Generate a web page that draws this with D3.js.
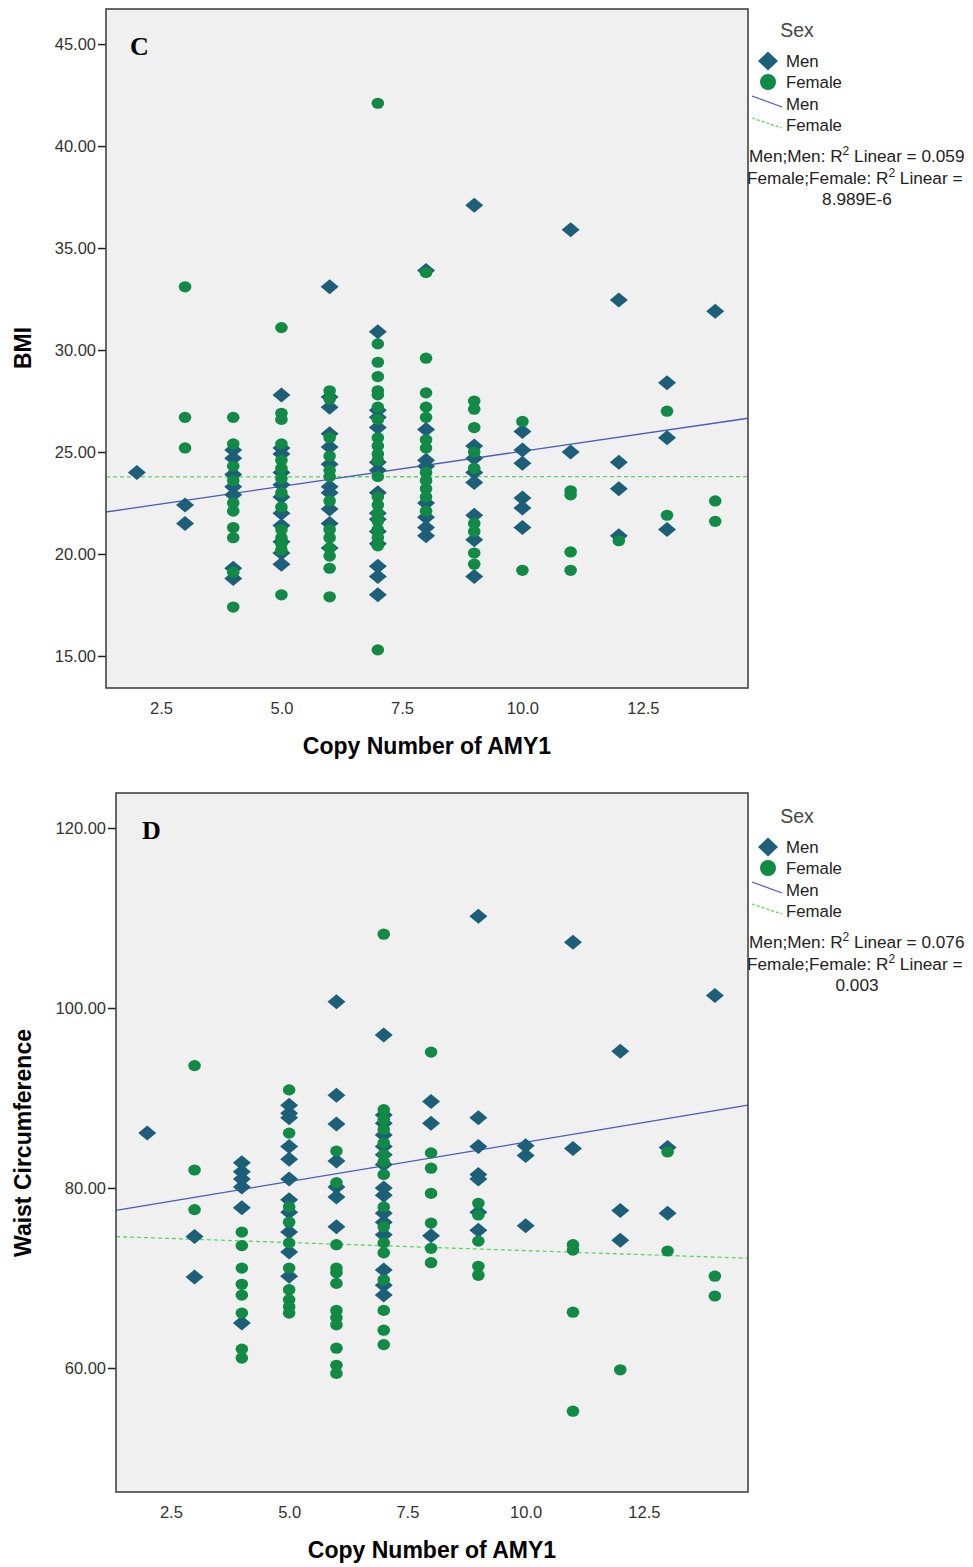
<!DOCTYPE html>
<html>
<head>
<meta charset="utf-8">
<script src="https://d3js.org/d3.v7.min.js"></script>
<style>
  body { margin: 0; background: #fff; }
  text { font-family: "Liberation Sans", Arial, sans-serif; }
</style>
</head>
<body>
<div id="chart"></div>
<script>
// ---- data ----
// each entry: copy number of AMY1, then the values at that copy number
var bmiMen = [
  [2, [24.0]],
  [3, [22.4, 21.5]],
  [4, [25.1, 24.7, 23.9, 23.3, 22.9, 19.3, 18.8]],
  [5, [27.8, 25.2, 24.9, 24.0, 23.4, 22.8, 22.0, 21.4, 20.6, 20.05, 19.5]],
  [6, [33.1, 27.7, 27.2, 25.9, 25.25, 24.4, 23.3, 23.0, 22.2, 21.5, 20.3]],
  [7, [30.9, 27.05, 26.7, 26.2, 24.5, 24.1, 23.0, 22.0, 21.7, 21.1, 20.5, 19.4, 18.9, 18.0]],
  [8, [33.9, 26.1, 24.6, 24.3, 22.5, 21.8, 21.3, 20.9]],
  [9, [37.1, 25.3, 24.7, 24.0, 23.5, 21.9, 20.7, 18.9]],
  [10, [26.0, 25.1, 24.45, 22.75, 22.25, 21.3]],
  [11, [35.9, 25.0]],
  [12, [32.45, 24.5, 23.2, 20.9]],
  [13, [28.4, 25.7, 21.2]],
  [14, [31.9]]
];
var bmiFemale = [
  [3, [33.1, 26.7, 25.2]],
  [4, [26.7, 25.4, 24.3, 23.6, 22.5, 22.1, 21.3, 20.8, 19.1, 17.4]],
  [5, [31.1, 26.9, 26.6, 25.4, 24.6, 24.2, 23.7, 23.0, 22.3, 21.2, 20.8, 20.5, 20.2, 18.0]],
  [6, [28.0, 27.6, 25.7, 24.8, 24.1, 23.8, 22.6, 21.2, 20.8, 20.3, 19.9, 19.3, 17.9]],
  [7, [42.1, 30.3, 29.4, 28.7, 28.0, 27.8, 27.2, 26.6, 25.7, 25.3, 24.9, 24.6, 23.8, 22.8, 22.4, 22.0, 21.6, 21.2, 20.8, 20.4, 15.3]],
  [8, [33.8, 29.6, 27.9, 27.2, 26.7, 25.6, 25.2, 24.0, 23.6, 23.2, 22.8, 22.1]],
  [9, [27.5, 27.1, 26.2, 25.0, 24.2, 21.5, 21.1, 20.05, 19.5]],
  [10, [26.5, 19.2]],
  [11, [23.1, 22.9, 20.1, 19.2]],
  [12, [20.65]],
  [13, [27.0, 21.9]],
  [14, [22.6, 21.6]]
];
var waistMen = [
  [2, [86.1]],
  [3, [74.6, 70.1]],
  [4, [82.8, 81.8, 81.0, 80.1, 77.8, 65.0]],
  [5, [89.2, 88.3, 87.8, 84.6, 83.2, 81.0, 78.7, 77.3, 75.1, 72.9, 70.2]],
  [6, [100.7, 90.3, 87.1, 83.0, 80.1, 79.0, 75.7]],
  [7, [97.0, 88.1, 87.2, 85.9, 84.6, 83.7, 82.6, 80.0, 79.2, 77.2, 76.2, 74.8, 70.9, 69.2, 68.1]],
  [8, [89.6, 87.2, 74.7]],
  [9, [110.2, 87.8, 84.6, 81.5, 81.0, 77.3, 75.3]],
  [10, [84.7, 83.6, 75.8]],
  [11, [107.3, 84.4]],
  [12, [95.2, 77.5, 74.2]],
  [13, [84.5, 77.2]],
  [14, [101.4]]
];
var waistFemale = [
  [3, [93.6, 82.0, 77.6]],
  [4, [75.1, 73.6, 71.1, 69.3, 68.1, 66.1, 62.1, 61.1]],
  [5, [90.9, 86.1, 77.9, 76.2, 73.9, 71.1, 68.7, 67.6, 66.8, 66.1]],
  [6, [84.1, 80.6, 73.7, 71.1, 70.6, 69.4, 66.4, 65.6, 64.8, 62.2, 60.3, 59.4]],
  [7, [108.2, 88.7, 87.6, 86.5, 85.0, 83.7, 82.9, 81.5, 77.9, 75.7, 73.9, 72.8, 69.8, 66.4, 64.2, 62.6]],
  [8, [95.1, 83.9, 82.2, 79.4, 76.1, 73.3, 71.7]],
  [9, [78.3, 77.0, 74.1, 71.3, 70.3]],
  [11, [73.7, 73.1, 66.2, 55.2]],
  [12, [59.8]],
  [13, [84.0, 73.0]],
  [14, [70.2, 68.0]]
];
// fit lines: [intercept, slope]
var bmiFitMen = [21.59, 0.345];
var bmiFitFemale = [23.78, 0.001];
var waistFitMen = [76.33, 0.876];
var waistFitFemale = [74.84, -0.18];

var bmiTicks = [15, 20, 25, 30, 35, 40, 45];
var waistTicks = [60, 80, 100, 120];
var xTicks = [2.5, 5.0, 7.5, 10.0, 12.5];
var r2TextC = ["0.059", "8.989E-6"];
var r2TextD = ["0.076", "0.003"];

var menColor = "#1d5f79", femColor = "#108a45";
var menLine = "#4a5bc2", femLine = "#5fd35f";

var svg = d3.select("#chart").append("svg")
  .attr("width", 973).attr("height", 1567);

function flat(groups) {
  var out = [];
  groups.forEach(function(g) { g[1].forEach(function(v) { out.push([g[0], v]); }); });
  return out;
}

function diamondPath(w, h) {
  return "M0," + (-h) + "L" + w + ",0L0," + h + "L" + (-w) + ",0Z";
}

function panel(p) {
  var x = d3.scaleLinear().domain(p.xDom).range([p.left, p.right]);
  var y = d3.scaleLinear().domain(p.yDom).range([p.bottom, p.top]);
  var g = svg.append("g");

  g.append("rect")
    .attr("x", p.left).attr("y", p.top)
    .attr("width", p.right - p.left).attr("height", p.bottom - p.top)
    .attr("fill", "#f0f0f0");

  // y axis
  var ya = g.append("g")
    .attr("transform", "translate(" + p.left + ",0)")
    .call(d3.axisLeft(y).tickValues(p.yTicks).tickFormat(d3.format(".2f")).tickSize(8).tickPadding(2));
  ya.select(".domain").remove();
  ya.selectAll("line").attr("stroke", "#222").attr("stroke-width", 1.5);
  ya.selectAll("text").attr("font-size", 16.5).attr("fill", "#333")
    .style("font-family", "'Liberation Sans', Arial, sans-serif");

  // x axis
  var xa = g.append("g")
    .attr("transform", "translate(0," + p.bottom + ")")
    .call(d3.axisBottom(x).tickValues(xTicks).tickFormat(d3.format(".1f")).tickSize(0).tickPadding(14));
  xa.select(".domain").remove();
  xa.selectAll("text").attr("font-size", 16.5).attr("fill", "#333")
    .style("font-family", "'Liberation Sans', Arial, sans-serif");

  // fit lines
  var xd = x.domain();
  g.append("line")
    .attr("x1", x(xd[0])).attr("y1", y(p.fitF[0] + p.fitF[1] * xd[0]))
    .attr("x2", x(xd[1])).attr("y2", y(p.fitF[0] + p.fitF[1] * xd[1]))
    .attr("stroke", femLine).attr("stroke-width", 1.3).attr("stroke-dasharray", "4,3");
  g.append("line")
    .attr("x1", x(xd[0])).attr("y1", y(p.fitM[0] + p.fitM[1] * xd[0]))
    .attr("x2", x(xd[1])).attr("y2", y(p.fitM[0] + p.fitM[1] * xd[1]))
    .attr("stroke", menLine).attr("stroke-width", 1.3);

  // points
  g.selectAll(".men").data(flat(p.men)).enter().append("path")
    .attr("d", diamondPath(9, 7.5))
    .attr("transform", function(d) { return "translate(" + x(d[0]) + "," + y(d[1]) + ")"; })
    .attr("fill", menColor);
  g.selectAll(".fem").data(flat(p.fem)).enter().append("ellipse")
    .attr("cx", function(d) { return x(d[0]); })
    .attr("cy", function(d) { return y(d[1]); })
    .attr("rx", 6.3).attr("ry", 5.6)
    .attr("fill", femColor);

  // frame
  g.append("rect")
    .attr("x", p.left).attr("y", p.top)
    .attr("width", p.right - p.left).attr("height", p.bottom - p.top)
    .attr("fill", "none").attr("stroke", "#444").attr("stroke-width", 1.6);

  // panel letter
  g.append("text").attr("x", p.left + p.letterDx).attr("y", p.top + 46)
    .attr("font-size", 26).attr("font-weight", "bold")
    .style("font-family", "'Liberation Serif', 'Times New Roman', serif")
    .text(p.letter);

  // titles
  g.append("text")
    .attr("x", (p.left + p.right) / 2).attr("y", p.bottom + 66)
    .attr("text-anchor", "middle").attr("font-size", 23).attr("font-weight", "bold")
    .text("Copy Number of AMY1");
  g.append("text")
    .attr("transform", "translate(31," + p.yTitleY + ") rotate(-90)")
    .attr("text-anchor", "middle").attr("font-size", 23).attr("font-weight", "bold")
    .text(p.yTitle);

  // legend
  var lt = p.legendTop;
  var lg = g.append("g");
  lg.append("text").attr("x", 797).attr("y", lt + 28).attr("text-anchor", "middle")
    .attr("font-size", 19.5).attr("fill", "#444").text("Sex");
  lg.append("path").attr("d", diamondPath(10, 9.5))
    .attr("transform", "translate(768," + (lt + 52) + ")").attr("fill", menColor);
  lg.append("circle").attr("cx", 768).attr("cy", lt + 73).attr("r", 8).attr("fill", femColor);
  lg.append("line").attr("x1", 752).attr("y1", lt + 87).attr("x2", 782).attr("y2", lt + 98)
    .attr("stroke", menLine).attr("stroke-width", 1.3);
  lg.append("line").attr("x1", 752).attr("y1", lt + 109).attr("x2", 782).attr("y2", lt + 119)
    .attr("stroke", femLine).attr("stroke-width", 1.3).attr("stroke-dasharray", "3,2");
  [["Men", 58], ["Female", 79], ["Men", 101], ["Female", 122]].forEach(function(t) {
    lg.append("text").attr("x", 786).attr("y", lt + t[1]).attr("font-size", 16.8)
      .attr("fill", "#222").text(t[0]);
  });
  var r1 = lg.append("text").attr("x", 749).attr("y", lt + 153).attr("font-size", 17.2).attr("fill", "#222");
  r1.append("tspan").text("Men;Men: R");
  r1.append("tspan").attr("font-size", 12).attr("dy", -7).text("2");
  r1.append("tspan").attr("dy", 7).text(" Linear = " + p.r2[0]);
  var r2 = lg.append("text").attr("x", 747).attr("y", lt + 175).attr("font-size", 17.2).attr("fill", "#222");
  r2.append("tspan").text("Female;Female: R");
  r2.append("tspan").attr("font-size", 12).attr("dy", -7).text("2");
  r2.append("tspan").attr("dy", 7).text(" Linear =");
  lg.append("text").attr("x", 857).attr("y", lt + 196).attr("text-anchor", "middle")
    .attr("font-size", 17.2).attr("fill", "#222").text(p.r2[1]);
}

panel({
  left: 106, right: 748, top: 9, bottom: 688,
  xDom: [1.36, 14.68], yDom: [13.43, 46.72],
  yTicks: bmiTicks, men: bmiMen, fem: bmiFemale,
  fitM: bmiFitMen, fitF: bmiFitFemale,
  letter: "C", letterDx: 24, yTitle: "BMI", yTitleY: 348,
  legendTop: 9, r2: r2TextC
});

panel({
  left: 116, right: 748, top: 793, bottom: 1492,
  xDom: [1.34, 14.70], yDom: [46.22, 123.89],
  yTicks: waistTicks, men: waistMen, fem: waistFemale,
  fitM: waistFitMen, fitF: waistFitFemale,
  letter: "D", letterDx: 26, yTitle: "Waist Circumference", yTitleY: 1143,
  legendTop: 795, r2: r2TextD
});
</script>
</body>
</html>
